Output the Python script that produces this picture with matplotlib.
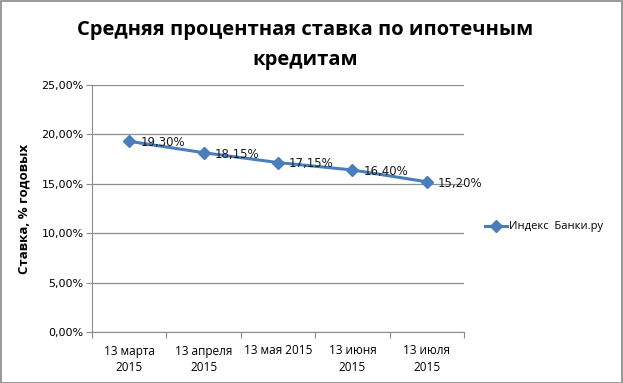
import matplotlib
matplotlib.use("Agg")
import matplotlib.pyplot as plt
from matplotlib.patches import Rectangle

categories = ["13 марта\n2015", "13 апреля\n2015", "13 мая 2015", "13 июня\n2015", "13 июля\n2015"]
values = [19.30, 18.15, 17.15, 16.40, 15.20]
series_name = "Индекс  Банки.ру"
title = "Средняя процентная ставка по ипотечным\nкредитам"
ylabel = "Ставка, % годовых"
yticks = [0, 5, 10, 15, 20, 25]

plt.rcParams['font.family'] = ['Open Sans', 'DejaVu Sans']

fig = plt.figure(figsize=(6.23, 3.83), dpi=100)
ax = fig.add_axes([92/623, 51/383, 372/623, 247/383])

color = "#4A7EBB"
x = list(range(len(values)))
line, = ax.plot(x, values, color=color, lw=2.2, marker='D', markersize=6,
                markerfacecolor=color, markeredgecolor=color, label=series_name)
for xi, v in zip(x, values):
    ax.annotate(f"{v:.2f}%".replace('.', ','), (xi, v), xytext=(8, -1),
                textcoords='offset points', ha='left', va='center',
                fontsize=8.5, family=['DejaVu Sans'], color='#1a1a1a')

ax.set_xlim(-0.5, len(values) - 0.5)
ax.set_ylim(0, 25)
ax.set_yticks(yticks)
ax.set_yticklabels([f"{t:.2f}%".replace('.', ',') for t in yticks],
                   fontsize=8, family=['DejaVu Sans'])
ax.yaxis.grid(True, color='#8c8c8c', lw=0.9)
ax.set_axisbelow(True)

ax.set_xticks([i - 0.5 for i in range(len(values) + 1)])
ax.set_xticklabels([])
ax.set_xticks(x, minor=True)
ax.set_xticklabels(categories, minor=True, fontsize=8.5, linespacing=1.35)
ax.tick_params(axis='x', which='minor', length=0, pad=9)
ax.tick_params(axis='x', which='major', length=4, color='#8c8c8c')
ax.tick_params(axis='y', length=4, color='#8c8c8c', pad=2)
for s in ['top', 'right']:
    ax.spines[s].set_visible(False)
for s in ['left', 'bottom']:
    ax.spines[s].set_color('#8c8c8c')

ax.set_ylabel(ylabel, fontsize=9.5, fontweight='bold', labelpad=6)
ax.yaxis.set_label_coords(-0.165, 0.5)

fig.text(0.49, 1 - 45/383, title, ha='center', va='center', fontsize=14.5,
         fontweight='bold', linespacing=1.6)

fig.legend(handles=[line], loc='center left', bbox_to_anchor=(475/623, 1 - 227/383),
           frameon=False, fontsize=8, handlelength=2.0, handletextpad=0.2)

fig.patches.append(Rectangle((0.001, 0.001), 0.997, 0.996, transform=fig.transFigure,
                             fill=False, edgecolor='#888888', lw=1.2))

fig.savefig("out.png", dpi=100, facecolor='white')
